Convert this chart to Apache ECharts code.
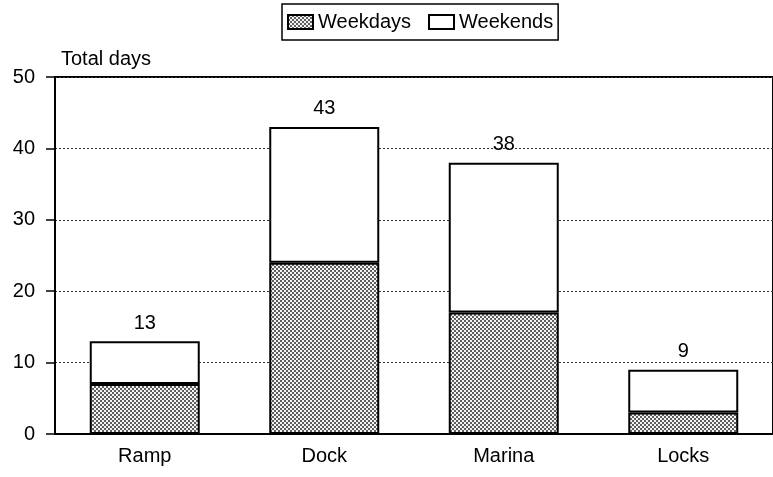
<!DOCTYPE html>
<html>
<head>
<meta charset="utf-8">
<script src="https://cdn.jsdelivr.net/npm/echarts@6/dist/echarts.min.js"></script>
<style>
  html, body { margin: 0; padding: 0; background: #fff; }
  #chart { width: 773px; height: 477px; }
</style>
</head>
<body>
<div id="chart"></div>
<script>
const categories = ['Ramp', 'Dock', 'Marina', 'Locks'];
const weekdays = [7, 24, 17, 3];
const weekends = [6, 19, 21, 6];
const yTicks = [0, 10, 20, 30, 40, 50];

const totals = categories.map((c, i) => weekdays[i] + weekends[i]);

// stipple fill like the printed screen
const tile = document.createElement('canvas');
tile.width = 4;
tile.height = 4;
const tctx = tile.getContext('2d');
tctx.fillStyle = '#f4f4f4';
tctx.fillRect(0, 0, 4, 4);
tctx.fillStyle = '#606060';
tctx.fillRect(0, 0, 2, 2);
tctx.fillRect(2, 2, 2, 2);

const font = '"Liberation Sans", Arial, sans-serif';

const option = {
  animation: false,
  backgroundColor: '#fff',
  textStyle: { fontFamily: font, color: '#000' },
  legend: {
    top: 4,
    left: 282,
    icon: 'rect',
    itemWidth: 25,
    itemHeight: 14,
    itemGap: 17,
    padding: [8, 5, 8, 5],
    borderColor: '#000',
    borderWidth: 1.5,
    textStyle: { fontSize: 20, color: '#000', fontFamily: font },
    data: ['Weekdays', 'Weekends'],
  },
  grid: {
    left: 55,
    right: -2,
    top: 77,
    bottom: 43,
    show: true,
    borderColor: '#000',
    borderWidth: 2,
  },
  xAxis: {
    type: 'category',
    data: categories,
    axisLine: { lineStyle: { color: '#000', width: 2 } },
    axisTick: { show: false },
    axisLabel: { fontSize: 20, color: '#000', margin: 12 },
  },
  yAxis: {
    type: 'value',
    min: yTicks[0],
    max: yTicks[yTicks.length - 1],
    interval: 10,
    name: 'Total days',
    nameLocation: 'end',
    nameGap: 8,
    nameTextStyle: { fontSize: 20, color: '#000', align: 'left', padding: [0, 0, 0, 6] },
    axisLine: { show: true, lineStyle: { color: '#000', width: 2 } },
    axisTick: { show: true, length: 9, lineStyle: { color: '#000', width: 1.5 } },
    axisLabel: { fontSize: 20, color: '#000', margin: 20 },
    splitLine: { lineStyle: { color: '#333', type: [2, 2], width: 1 } },
  },
  series: [
    {
      name: 'Weekdays',
      type: 'bar',
      stack: 'days',
      barWidth: 110,
      data: weekdays,
      itemStyle: {
        color: { image: tile, repeat: 'repeat' },
        borderColor: '#000',
        borderWidth: 2,
      },
    },
    {
      name: 'Weekends',
      type: 'bar',
      stack: 'days',
      barWidth: 110,
      data: weekends,
      itemStyle: { color: '#fff', borderColor: '#000', borderWidth: 2 },
      label: {
        show: true,
        position: 'top',
        distance: 8,
        fontSize: 20,
        color: '#000',
        formatter: (p) => String(totals[p.dataIndex]),
      },
    },
  ],
};

const myChart = echarts.init(document.getElementById('chart'));
myChart.setOption(option);
</script>
</body>
</html>
